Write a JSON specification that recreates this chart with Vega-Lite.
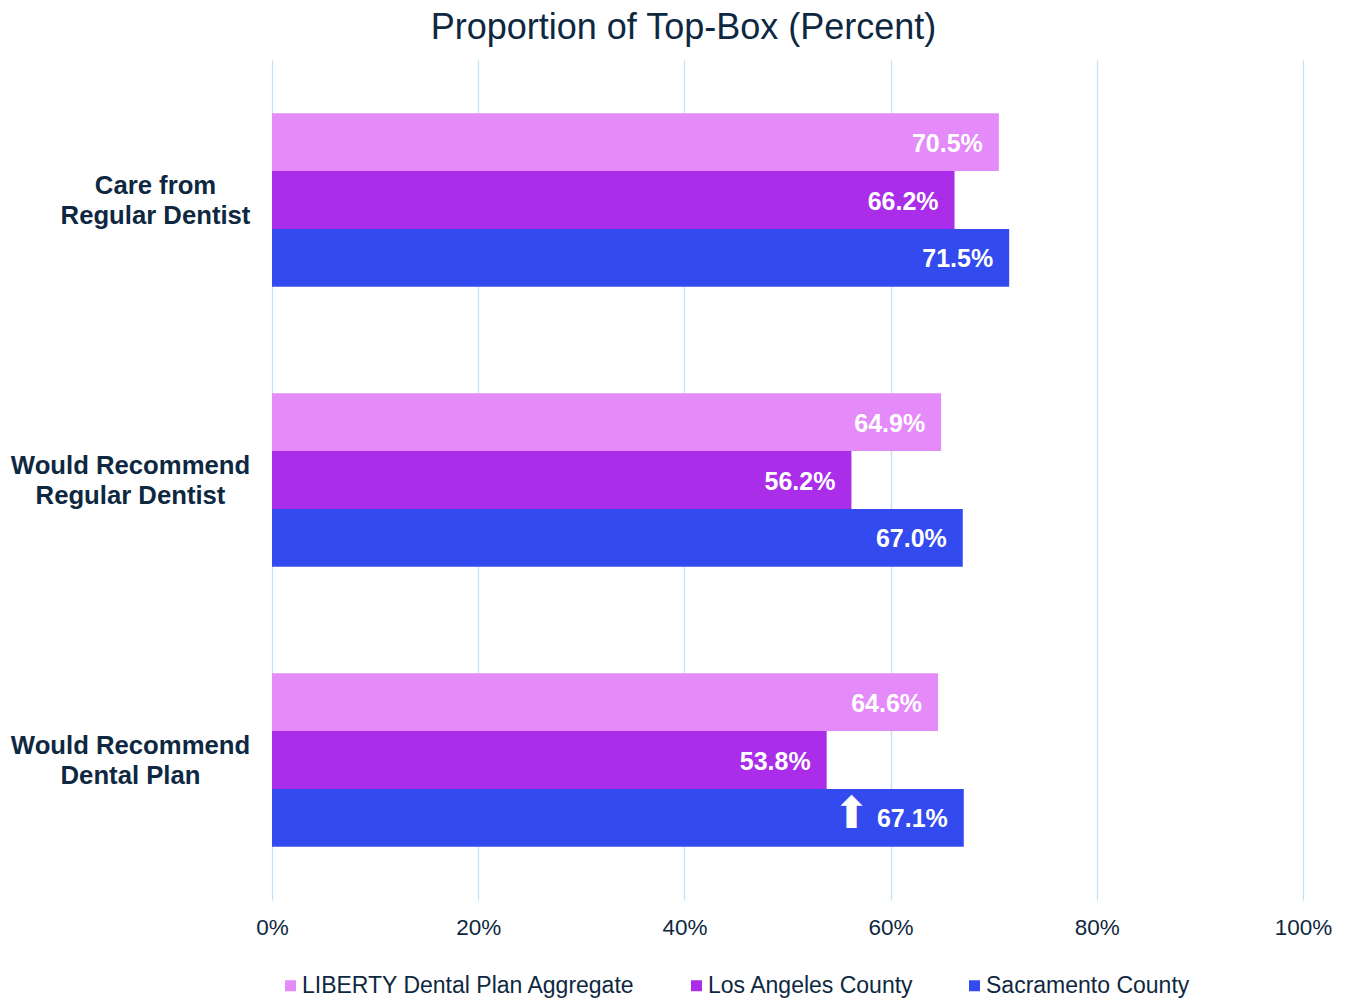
{
  "$schema": "https://vega.github.io/schema/vega-lite/v6.json",
  "width": 1031,
  "height": 840,
  "autosize": {"type": "none"},
  "padding": {"left": 272, "top": 60, "right": 43, "bottom": 100},
  "title": {"text": "Proportion of Top-Box (Percent)", "fontSize": 36, "font": "Liberation Sans", "fontWeight": "normal", "color": "#0E2841", "anchor": "middle", "dx": -104, "offset": 13},
  "config": {"view": {"stroke": null}, "font": "Liberation Sans"},
  "data": {"values": [
    {"measure": "Care from Regular Dentist", "group": "LIBERTY Dental Plan Aggregate", "value": 0.705, "sig": ""},
    {"measure": "Care from Regular Dentist", "group": "Los Angeles County", "value": 0.662, "sig": ""},
    {"measure": "Care from Regular Dentist", "group": "Sacramento County", "value": 0.715, "sig": ""},
    {"measure": "Would Recommend Regular Dentist", "group": "LIBERTY Dental Plan Aggregate", "value": 0.649, "sig": ""},
    {"measure": "Would Recommend Regular Dentist", "group": "Los Angeles County", "value": 0.562, "sig": ""},
    {"measure": "Would Recommend Regular Dentist", "group": "Sacramento County", "value": 0.670, "sig": ""},
    {"measure": "Would Recommend Dental Plan", "group": "LIBERTY Dental Plan Aggregate", "value": 0.646, "sig": ""},
    {"measure": "Would Recommend Dental Plan", "group": "Los Angeles County", "value": 0.538, "sig": ""},
    {"measure": "Would Recommend Dental Plan", "group": "Sacramento County", "value": 0.671, "sig": "⬆"}
  ]},
  "encoding": {
    "y": {
      "field": "measure", "type": "nominal",
      "sort": ["Care from Regular Dentist", "Would Recommend Regular Dentist", "Would Recommend Dental Plan"],
      "scale": {"paddingInner": 0.38, "paddingOuter": 0.19},
      "axis": {
        "title": null, "labelFontSize": 25.7, "labelFontWeight": "bold", "labelColor": "#0E2841",
        "ticks": false, "domain": false, "grid": false, "labelAlign": "center",
        "labelPadding": {"condition": {"test": "datum.value == 'Care from Regular Dentist'", "value": 117}, "value": 142},
        "labelLineHeight": 30, "labelLimit": 400, "labelOffset": -14,
        "labelExpr": "datum.value == 'Care from Regular Dentist' ? ['Care from', 'Regular Dentist'] : datum.value == 'Would Recommend Regular Dentist' ? ['Would Recommend', 'Regular Dentist'] : ['Would Recommend', 'Dental Plan']"
      }
    },
    "yOffset": {
      "field": "group", "type": "nominal",
      "sort": ["LIBERTY Dental Plan Aggregate", "Los Angeles County", "Sacramento County"],
      "scale": {"paddingInner": 0, "paddingOuter": 0}
    },
    "x": {
      "field": "value", "type": "quantitative",
      "scale": {"domain": [0, 1]},
      "axis": {
        "title": null, "format": ".0%", "values": [0, 0.2, 0.4, 0.6, 0.8, 1],
        "labelFontSize": 22.5, "labelColor": "#0E2841", "ticks": false, "domain": false,
        "gridColor": "#BEE3F8", "gridWidth": 1.3, "labelPadding": 16, "labelFlush": false
      }
    }
  },
  "layer": [
    {
      "mark": {"type": "bar"},
      "encoding": {
        "color": {
          "field": "group", "type": "nominal",
          "scale": {"domain": ["LIBERTY Dental Plan Aggregate", "Los Angeles County", "Sacramento County"], "range": ["#E58AF9", "#A92DE9", "#334BEE"]},
          "legend": {
            "orient": "none", "legendX": 7, "legendY": 914, "direction": "horizontal", "title": null,
            "symbolType": "square", "symbolSize": 121, "symbolStrokeWidth": 0, "labelFontSize": 23,
            "labelColor": "#0E2841", "columnPadding": 49, "labelOffset": 0, "padding": 0, "labelLimit": 500
          }
        }
      }
    },
    {
      "mark": {"type": "text", "align": "right", "baseline": "middle", "dx": -16, "dy": 1.5, "color": "white", "fontWeight": "bold", "fontSize": 25},
      "encoding": {"text": {"field": "value", "format": ".1%"}}
    },
    {
      "mark": {"type": "text", "align": "center", "baseline": "middle", "dx": -112, "dy": -3, "color": "white", "fontSize": 44, "font": "DejaVu Sans"},
      "encoding": {"text": {"field": "sig"}}
    }
  ]
}
